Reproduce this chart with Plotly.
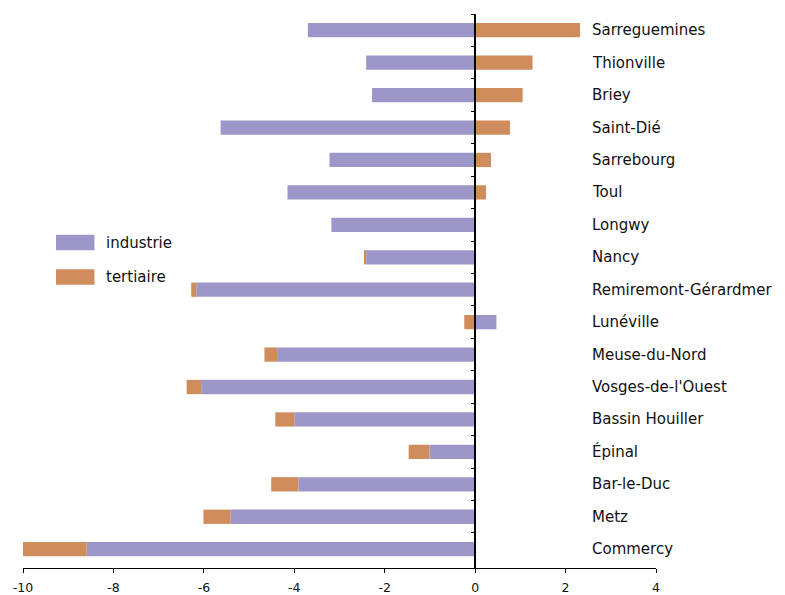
import plotly.graph_objects as go

regions = ["Sarreguemines", "Thionville", "Briey", "Saint-Dié", "Sarrebourg", "Toul",
           "Longwy", "Nancy", "Remiremont-Gérardmer", "Lunéville", "Meuse-du-Nord",
           "Vosges-de-l'Ouest", "Bassin Houiller", "Épinal", "Bar-le-Duc", "Metz", "Commercy"]
industrie = [-3.70, -2.41, -2.28, -5.63, -3.22, -4.15, -3.18, -2.41, -6.17, 0.47, -4.38,
             -6.06, -4.00, -1.01, -3.91, -5.41, -8.59]
tertiaire = [2.32, 1.27, 1.05, 0.77, 0.35, 0.24, 0.0, -0.05, -0.11, -0.24, -0.28,
             -0.32, -0.42, -0.46, -0.60, -0.60, -1.41]
tick_vals = [-10, -8, -6, -4, -2, 0, 2, 4]
tick_text = ["-10", "-8", "-6", "-4", "-2", "0", "2", "4"]
series_names = ["industrie", "tertiaire"]

C_IND = "#9d96c9"
C_TER = "#cf8c5c"
FONT = "DejaVu Sans"
TXT = "#111111"

fig = go.Figure()
fig.add_trace(go.Bar(y=regions, x=industrie, orientation="h", name=series_names[0],
                     marker=dict(color=C_IND, line=dict(width=0)), showlegend=False))
fig.add_trace(go.Bar(y=regions, x=tertiaire, orientation="h", name=series_names[1],
                     marker=dict(color=C_TER, line=dict(width=0)), showlegend=False))

annotations = []
for r in regions:
    annotations.append(dict(x=2.55, y=r, xref="x", yref="y", text=r, showarrow=False,
                            xanchor="left", yanchor="middle",
                            font=dict(family=FONT, size=15, color=TXT)))

TOP, BOT = 14.3, 568.3

# legend drawn manually (paper y from pixel positions)
def py(px):
    return (BOT - px) / (BOT - TOP)

leg = [(series_names[0], C_IND, 235, 250.5, 243),
       (series_names[1], C_TER, 269.5, 285, 277)]
shapes = []
for name, col, ytop, ybot, yt in leg:
    shapes.append(dict(type="rect", xref="x", yref="paper", x0=-9.27, x1=-8.42,
                       y0=py(ybot), y1=py(ytop), fillcolor=col, line=dict(width=0)))
    annotations.append(dict(x=-8.2, y=py(yt), xref="x", yref="paper", text=name,
                            showarrow=False, xanchor="left", yanchor="middle",
                            font=dict(family=FONT, size=15, color=TXT)))

fig.update_layout(
    width=785, height=595,
    margin=dict(l=23, r=129, t=TOP, b=595 - BOT),
    barmode="relative", bargap=0.56,
    plot_bgcolor="white", paper_bgcolor="white",
    font=dict(family=FONT, size=13, color=TXT),
    xaxis=dict(range=[-10, 4], tickvals=tick_vals, ticktext=tick_text, showgrid=False,
               zeroline=False, showline=True, linecolor="black", linewidth=1,
               ticks="outside", ticklen=4, tickcolor="black", automargin=False,
               ticklabelstandoff=4,
               tickfont=dict(family=FONT, size=12.5, color=TXT)),
    yaxis=dict(range=[16.58, -0.5], showgrid=False, zeroline=False, showline=True,
               linecolor="black", linewidth=1.5, anchor="free", position=10/14,
               ticks="outside", ticklen=3, tickcolor="black", tickson="boundaries",
               showticklabels=False, automargin=False),
    annotations=annotations, shapes=shapes,
)
fig.write_html("out.html", config={"displayModeBar": False},
               post_script="document.body.style.margin='0';")
